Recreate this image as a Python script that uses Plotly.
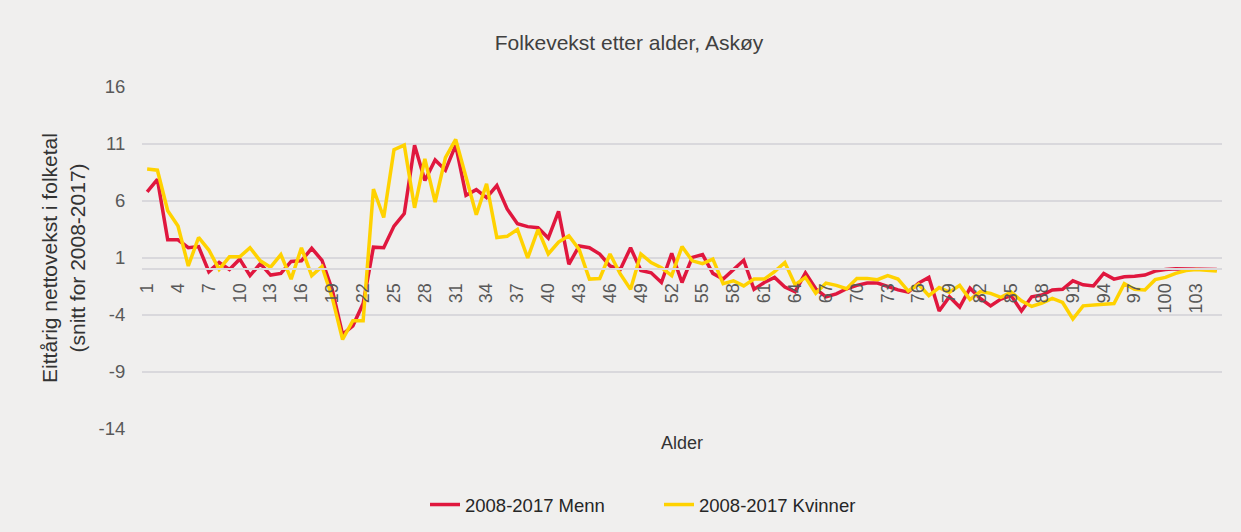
import plotly.graph_objects as go

ages = list(range(1, 106))

menn = [6.8, 7.9, 2.6, 2.6, 1.9, 2.0, -0.2, 0.6, 0.0, 0.9,
        -0.55, 0.5, -0.5, -0.35, 0.7, 0.75, 1.85, 0.8, -1.8, -5.7,
        -4.95, -3.0, 1.95, 1.9, 3.8, 4.9, 10.9, 7.8, 9.6, 8.7,
        10.9, 6.5, 7.0, 6.3, 7.35, 5.3, 4.0, 3.75, 3.65, 2.75,
        5.1, 0.45, 2.05, 1.9, 1.35, 0.3, 0.0, 1.9, -0.1, -0.3,
        -1.15, 1.4, -1.15, 1.05, 1.3, -0.35, -0.85, 0.0, 0.8, -1.75,
        -1.15, -0.7, -1.55, -1.95, -0.3, -1.7, -2.4, -2.15, -1.7, -1.4,
        -1.2, -1.2, -1.5, -1.8, -2.0, -1.2, -0.7, -3.65, -2.4, -3.3,
        -1.65, -2.55, -3.2, -2.6, -2.3, -3.65, -2.4, -2.25, -1.8, -1.75,
        -1.0, -1.35, -1.45, -0.35, -0.85, -0.65, -0.6, -0.5, -0.15, 0.0,
        0.05, 0.05, 0.05, 0.05, 0.0]

kvinner = [8.8, 8.7, 5.15, 3.8, 0.3, 2.8, 1.7, 0.0, 1.1, 1.1,
           1.9, 0.75, 0.2, 1.3, -0.85, 1.9, -0.55, 0.25, -2.5, -6.15,
           -4.5, -4.5, 7.05, 4.55, 10.5, 10.9, 5.4, 9.7, 5.9, 9.8,
           11.4, 8.2, 4.8, 7.5, 2.8, 2.9, 3.5, 1.0, 3.5, 1.35,
           2.4, 2.95, 1.75, -0.85, -0.8, 1.35, -0.4, -1.75, 1.35, 0.6,
           0.15, -0.55, 2.0, 0.75, 0.5, 0.9, -1.25, -1.0, -1.45, -0.85,
           -0.85, -0.2, 0.6, -1.35, -0.7, -2.1, -1.2, -1.4, -1.7, -0.8,
           -0.8, -0.9, -0.55, -0.85, -1.9, -1.3, -2.3, -1.6, -2.0, -1.4,
           -2.65, -1.95, -2.1, -2.45, -2.0, -2.75, -3.25, -2.95, -2.55, -2.9,
           -4.35, -3.2, -3.1, -3.05, -3.0, -1.25, -1.75, -1.8, -0.9, -0.7,
           -0.35, -0.1, 0.0, -0.05, -0.15]

y_ticks = [16, 11, 6, 1, -4, -9, -14]
y_ticklabels = ["16", "11", "6", "1", "-4", "-9", "-14"]
x_ticks = list(range(1, 106, 3))

BG = "#F0EFEE"
GRID = "#D9D8DC"
FONT = "Liberation Sans, Arial, sans-serif"
W, H = 1241, 532

# plot area 86..430 px (344 px) at 11.4 px per unit, so -14 and 16 sit just inside
PAD = (344 / 11.4 - 30) / 2
Y0, Y1 = -14 - PAD, 16 + PAD
ZERO_POS = (0 - Y0) / (Y1 - Y0)

fig = go.Figure()
fig.add_trace(go.Scatter(x=ages, y=menn, mode="lines", name="2008-2017 Menn",
                         line=dict(color="#E0173E", width=3.5)))
fig.add_trace(go.Scatter(x=ages, y=kvinner, mode="lines", name="2008-2017 Kvinner",
                         line=dict(color="#FFD200", width=3.5)))

fig.update_layout(
    width=W, height=H,
    paper_bgcolor=BG, plot_bgcolor=BG,
    margin=dict(l=142, r=19, t=86, b=102, autoexpand=False),
    font=dict(family=FONT, size=18, color="#595959"),
    title=dict(text="Folkevekst etter alder, Askøy", x=629 / W, xref="container",
               xanchor="center", y=1 - 43 / H, yanchor="middle",
               font=dict(size=21, color="#404040")),
    showlegend=True,
    legend=dict(orientation="h", x=(425 - 142) / 1080, xanchor="left",
                y=(430 - 505) / 344, yanchor="middle", entrywidth=189,
                font=dict(size=18.5, color="#262626"), bgcolor="rgba(0,0,0,0)"),
    xaxis=dict(
        range=[0.5, 105.5], tickmode="array", tickvals=x_ticks,
        ticktext=[str(v) for v in x_ticks], tickangle=-90,
        showgrid=False, zeroline=False,
        showline=True, linecolor=GRID, linewidth=1.5,
        anchor="free", position=ZERO_POS,
        ticks="outside", ticklen=6, tickcolor="rgba(0,0,0,0)",
        tickfont=dict(size=18, color="#595959"),
        automargin=False,
    ),
    yaxis=dict(
        range=[Y0, Y1], tickmode="array", tickvals=y_ticks, ticktext=y_ticklabels,
        showgrid=True, gridcolor=GRID, gridwidth=1.5,
        zeroline=False, showline=False,
        ticks="outside", ticklen=12, tickcolor="rgba(0,0,0,0)",
        tickfont=dict(size=18.5, color="#595959"),
        title=dict(text="Eittårig nettovekst i folketal<br>(snitt for 2008-2017)",
                   font=dict(size=21, color="#333333"), standoff=7),
        automargin=False,
    ),
    annotations=[dict(text="Alder", x=0.5, xref="paper", y=(430 - 443) / 344,
                      yref="paper", xanchor="center", yanchor="middle",
                      showarrow=False, font=dict(size=18, color="#333333"))],
)

fig.write_html("out.html",
               config={"displayModeBar": False},
               post_script="document.body.style.margin='0';"
                           "document.body.style.overflow='hidden';"
                           "document.body.style.background='" + BG + "';")
